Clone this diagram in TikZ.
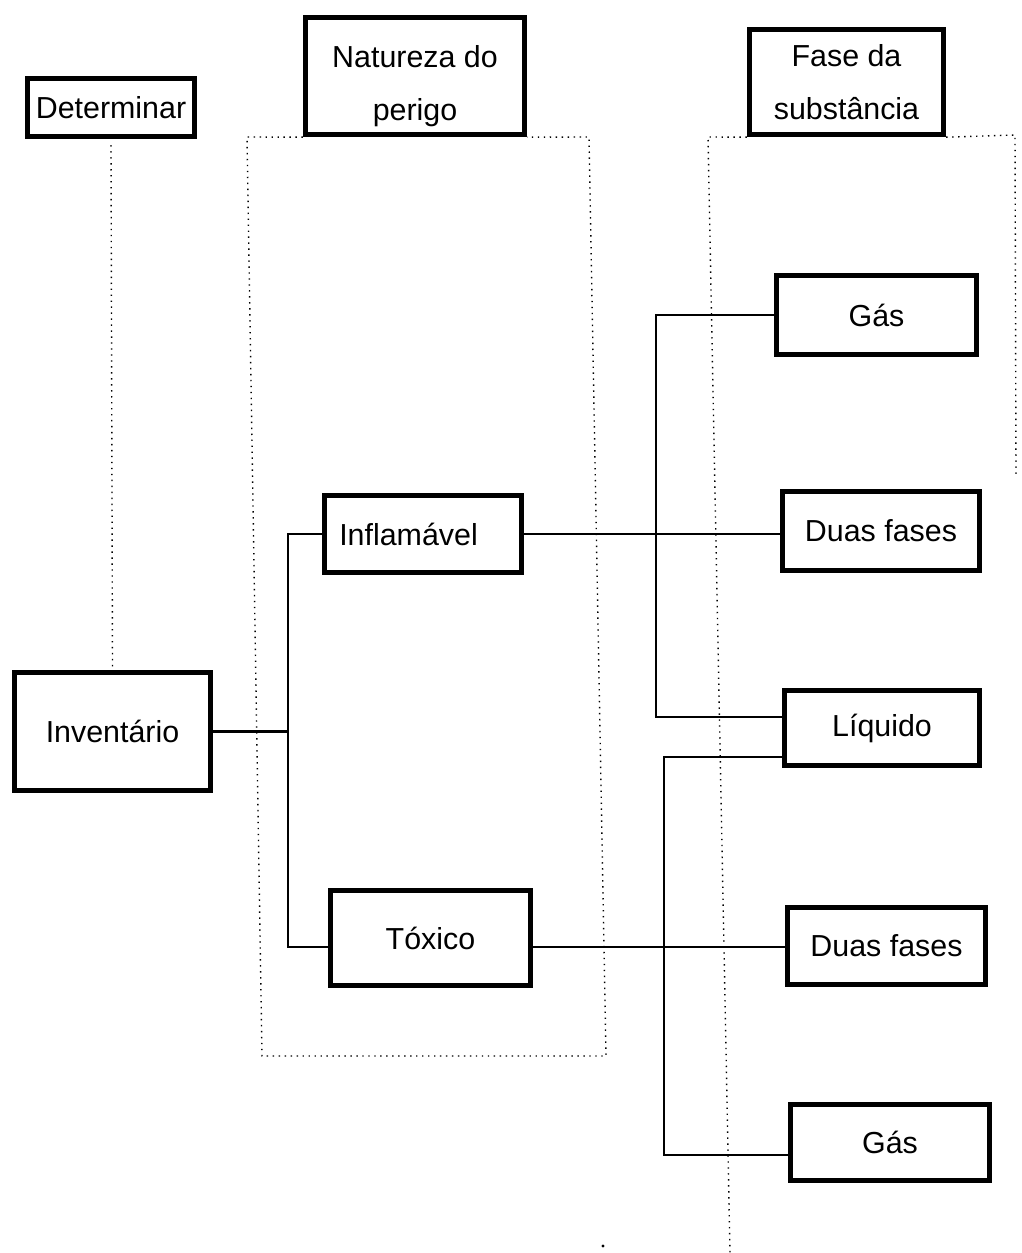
\documentclass[tikz,border=0pt]{standalone}
\usepackage{fontspec}
\setmainfont{Liberation Sans}
\usepackage{tikz}

\begin{document}
\begin{tikzpicture}[x=0.02cm,y=-0.02cm,
	caixa/.style={draw,line width=2.8pt,inner sep=0pt,align=center,font=\fontsize{17.3}{30}\selectfont},
	texto/.style={inner sep=0pt,align=center,font=\fontsize{17.3}{30}\selectfont},
	liga/.style={line width=1.4pt},
	pontos/.style={line width=0.8pt,dash pattern=on 0.8pt off 2.6pt}]
			\useasboundingbox (0,0) rectangle (1021,1253);

			% titulos
			\node[caixa,minimum width=3.35cm,minimum height=1.17cm] (det) at (111,107.5) {Determinar};
			\node[caixa,minimum width=4.39cm,minimum height=2.35cm] (nat) at (415,76) {};
			\node[texto] (natT) at ([yshift=-0.2cm]nat.center) {Natureza do\\perigo};
			\node[caixa,minimum width=3.89cm,minimum height=2.11cm] (fase) at (846.5,82) {Fase da\\substância};

			% caixas
			\node[caixa,minimum width=3.93cm,minimum height=2.37cm] (inv) at (112.5,731.5) {Inventário};
			\node[caixa,minimum width=3.95cm,minimum height=1.55cm,text width=3.35cm,align=left,inner xsep=0.3cm] (infl) at (423,534) {Inflamável};
			\node[caixa,minimum width=4.01cm,minimum height=1.91cm] (tox) at (430.5,938) {Tóxico};

			\node[caixa,minimum width=4.01cm,minimum height=1.59cm] (gas1) at (876.5,315) {Gás};
			\node[caixa,minimum width=3.95cm,minimum height=1.59cm] (duas1) at (881,531) {Duas fases};
			\node[caixa,minimum width=3.91cm,minimum height=1.51cm] (liq) at (882,728) {Líquido};
			\node[caixa,minimum width=3.97cm,minimum height=1.55cm] (duas2) at (886.5,946) {Duas fases};
			\node[caixa,minimum width=3.99cm,minimum height=1.53cm] (gas2) at (890,1142.5) {Gás};

			% linhas pontilhadas
			\draw[pontos] ([yshift=-0.12cm]det.south) -- (inv.north);
			\draw[pontos] (nat.south west) -- (247,137) -- (262,1056) -- (606,1056) -- (589,137) -- (nat.south east);
			\draw[pontos] (fase.south west) -- (708,137) -- (730,1253);
			\draw[pontos] (fase.south east) -- (1015,135) -- (1016,477);
			\fill (603,1246) circle (0.9pt);

			% ligacoes
			\coordinate (tox1) at ([yshift=-0.18cm]tox.west);
			\coordinate (tox2) at ([yshift=-0.18cm]tox.east);
			\coordinate (liq1) at ([yshift=0.22cm]liq.west);
			\coordinate (liq2) at ([yshift=-0.58cm]liq.west);
			\coordinate (gas2a) at ([yshift=-0.25cm]gas2.west);

			\draw[liga] (inv.east) -- ++(75,0) coordinate (b1);
			\draw[liga] (infl.west) -| (b1) |- (tox1);
			\draw[liga] (infl.east) -- (infl.east -| duas1.west);
			\draw[liga] (tox2) -- (tox2 -| duas2.west);
			\draw[liga] (gas1.west) -- ++(-118,0) |- (liq1);
			\draw[liga] (liq2) -- ++(-118,0) |- (gas2a);
		\end{tikzpicture}
\end{document}
